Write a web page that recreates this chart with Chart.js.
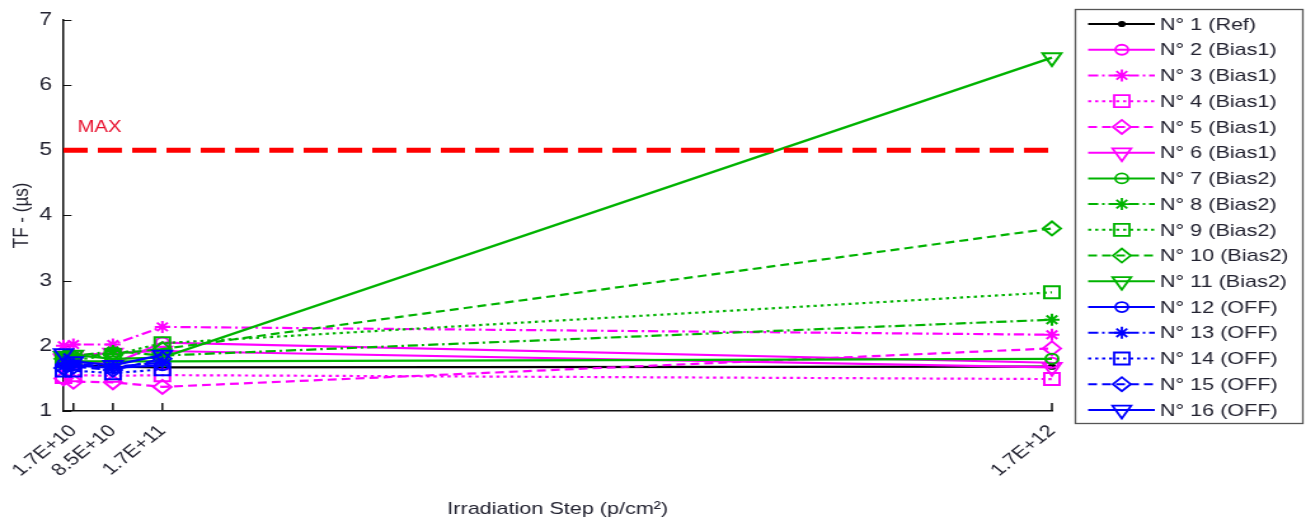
<!DOCTYPE html>
<html>
<head>
<meta charset="utf-8">
<title>TF vs irradiation step</title>
<script src="https://cdn.jsdelivr.net/npm/chart.js@4.4.1/dist/chart.umd.min.js"></script>
<style>
  html, body { margin: 0; padding: 0; background: #ffffff; overflow: hidden; }
  #tf { display: block; }
</style>
</head>
<body>
<!-- the plot is laid out on a narrower canvas and widened on screen -->
<canvas id="tf" width="1028" height="523" style="width:1306px;height:523px"></canvas>
<script>
// ---- data -------------------------------------------------------------
const steps      = [0, 1.7e10, 8.5e10, 1.7e11, 1.7e12];      // p/cm²
const tickSteps  = [1.7e10, 8.5e10, 1.7e11, 1.7e12];
const tickLabels = ['1.7E+10', '8.5E+10', '1.7E+11', '1.7E+12'];
const yTicks     = [1, 2, 3, 4, 5, 6, 7];
const tfMax      = 5;                                         // µs

const names = [
  'N° 1 (Ref)', 'N° 2 (Bias1)', 'N° 3 (Bias1)', 'N° 4 (Bias1)', 'N° 5 (Bias1)',
  'N° 6 (Bias1)', 'N° 7 (Bias2)', 'N° 8 (Bias2)', 'N° 9 (Bias2)', 'N° 10 (Bias2)',
  'N° 11 (Bias2)', 'N° 12 (OFF)', 'N° 13 (OFF)', 'N° 14 (OFF)', 'N° 15 (OFF)', 'N° 16 (OFF)'
];

const n1  = [1.70, 1.70, 1.68, 1.67, 1.68];
const n2  = [1.74, 1.76, 1.72, 2.05, 1.74];
const n3  = [2.00, 2.02, 2.02, 2.29, 2.17];
const n4  = [1.52, 1.55, 1.54, 1.55, 1.49];
const n5  = [1.50, 1.45, 1.44, 1.37, 1.96];
const n6  = [1.80, 1.85, 1.89, 1.92, 1.67];
const n7  = [1.80, 1.76, 1.76, 1.76, 1.80];
const n8  = [1.82, 1.84, 1.92, 1.85, 2.40];
const n9  = [1.76, 1.78, 1.86, 2.04, 2.82];
const n10 = [1.80, 1.82, 1.88, 1.95, 3.80];
const n11 = [1.84, 1.86, 1.80, 1.82, 6.42];
const n12 = [1.72, 1.70, 1.66, 1.70];
const n13 = [1.68, 1.72, 1.68, 1.74];
const n14 = [1.62, 1.62, 1.58, 1.64];
const n15 = [1.66, 1.68, 1.63, 1.80];
const n16 = [1.88, 1.76, 1.70, 1.86];

const seriesValues = [n1, n2, n3, n4, n5, n6, n7, n8, n9, n10, n11, n12, n13, n14, n15, n16];

// ---- styles -----------------------------------------------------------
const BLACK = '#000000', MAGENTA = '#ff00ff', GREEN = '#00b300', BLUE = '#0000ff';
const DASH = { solid: [], dashdot: [8, 3, 2, 3], dotted: [2.5, 3], dashed: [7, 4] };
const MARK = {
  dot:     { pointStyle: 'circle',   radius: 2.2, rotation: 0,   filled: true },
  circle:  { pointStyle: 'circle',   radius: 5,   rotation: 0 },
  star:    { pointStyle: 'star',     radius: 6,   rotation: 0 },
  square:  { pointStyle: 'rect',     radius: 8.5, rotation: 0 },
  diamond: { pointStyle: 'rectRot',  radius: 7,   rotation: 0 },
  tri:     { pointStyle: 'triangle', radius: 8.5, rotation: 180 }
};
const seriesStyle = [
  [BLACK,   'solid',   'dot'],
  [MAGENTA, 'solid',   'circle'],
  [MAGENTA, 'dashdot', 'star'],
  [MAGENTA, 'dotted',  'square'],
  [MAGENTA, 'dashed',  'diamond'],
  [MAGENTA, 'solid',   'tri'],
  [GREEN,   'solid',   'circle'],
  [GREEN,   'dashdot', 'star'],
  [GREEN,   'dotted',  'square'],
  [GREEN,   'dashed',  'diamond'],
  [GREEN,   'solid',   'tri'],
  [BLUE,    'solid',   'circle'],
  [BLUE,    'dashdot', 'star'],
  [BLUE,    'dotted',  'square'],
  [BLUE,    'dashed',  'diamond'],
  [BLUE,    'solid',   'tri']
];

const FONT = 'Arial, "Liberation Sans", Helvetica, sans-serif';
const TEXT = '#222230';

// ---- datasets ---------------------------------------------------------
const datasets = seriesValues.map((vals, i) => {
  const [color, dash, mark] = seriesStyle[i];
  const m = MARK[mark];
  return {
    label: names[i],
    data: vals.map((v, k) => ({ x: steps[k], y: v })),
    borderColor: color,
    borderWidth: 2.2,
    borderDash: DASH[dash],
    pointStyle: m.pointStyle,
    pointRadius: m.radius,
    pointRotation: m.rotation,
    pointBorderWidth: 2,
    pointBorderColor: color,
    pointBackgroundColor: m.filled ? color : 'rgba(0,0,0,0)',
    fill: false,
    tension: 0,
    clip: false,
    order: 50 - i,
    _mark: mark,
    _dash: dash
  };
});

datasets.push({
  label: 'MAX',
  data: [{ x: steps[0], y: tfMax }, { x: steps[steps.length - 1], y: tfMax }],
  borderColor: '#ff0000',
  borderWidth: 5,
  borderDash: [19, 8],
  pointRadius: 0,
  fill: false,
  clip: false,
  order: 0,
  _isLimit: true
});

// ---- plugins ----------------------------------------------------------
// tick marks drawn inward from the axes
const innerTicks = {
  id: 'innerTicks',
  beforeDatasetsDraw(chart) {
    const { ctx, chartArea: a, scales: { x, y } } = chart;
    ctx.save();
    ctx.strokeStyle = '#111';
    ctx.lineWidth = 1.2;
    ctx.beginPath();
    yTicks.forEach(v => {
      const py = Math.round(y.getPixelForValue(v)) + 0.5;
      ctx.moveTo(a.left, py);
      ctx.lineTo(a.left + 6.3, py);
    });
    ctx.stroke();
    ctx.lineWidth = 1.5;
    ctx.beginPath();
    tickSteps.forEach(v => {
      const px = x.getPixelForValue(v);
      ctx.moveTo(px, a.bottom);
      ctx.lineTo(px, a.bottom - 8);
    });
    ctx.stroke();
    ctx.restore();
  }
};

// "MAX" caption above the limit line
const maxLabel = {
  id: 'maxLabel',
  afterDatasetsDraw(chart) {
    const { ctx, scales: { x, y } } = chart;
    ctx.save();
    ctx.fillStyle = '#e8102e';
    ctx.font = '16px ' + FONT;
    ctx.textAlign = 'left';
    ctx.textBaseline = 'middle';
    ctx.fillText('MAX', x.getPixelForValue(0) + 11, y.getPixelForValue(tfMax) - 23);
    ctx.restore();
  }
};

function drawMarker(ctx, ds, cx, cy) {
  const m = MARK[ds._mark];
  ctx.save();
  ctx.strokeStyle = ds.borderColor;
  ctx.fillStyle = m.filled ? ds.borderColor : 'rgba(0,0,0,0)';
  ctx.lineWidth = 1.8;
  ctx.setLineDash([]);
  Chart.helpers.drawPoint(ctx, {
    pointStyle: m.pointStyle, radius: m.radius, rotation: m.rotation, borderWidth: 1.8
  }, cx, cy);
  ctx.restore();
}

// boxed legend on the right
const boxLegend = {
  id: 'boxLegend',
  afterDraw(chart) {
    const ctx = chart.ctx;
    const boxL = 846.5, boxT = 9.5, boxW = 179, boxH = 414;
    const rowY0 = 24, rowStep = 25.73;
    const lineL = 856.5, lineR = 909, markX = 883, textX = 913;
    ctx.save();
    ctx.fillStyle = '#ffffff';
    ctx.fillRect(boxL, boxT, boxW, boxH);
    ctx.strokeStyle = '#555555';
    ctx.lineWidth = 1.3;
    ctx.strokeRect(boxL, boxT, boxW, boxH);
    chart.data.datasets.filter(d => !d._isLimit).forEach((ds, i) => {
      const yy = rowY0 + i * rowStep;
      ctx.save();
      ctx.strokeStyle = ds.borderColor;
      ctx.lineWidth = 2;
      ctx.setLineDash(ds.borderDash);
      ctx.beginPath();
      ctx.moveTo(lineL, yy);
      ctx.lineTo(lineR, yy);
      ctx.stroke();
      ctx.restore();
      drawMarker(ctx, ds, markX, yy);
      ctx.fillStyle = TEXT;
      ctx.font = '17px ' + FONT;
      ctx.textAlign = 'left';
      ctx.textBaseline = 'middle';
      ctx.fillText(ds.label, textX, yy + 1);
    });
    ctx.restore();
  }
};

// ---- chart ------------------------------------------------------------
new Chart(document.getElementById('tf'), {
  type: 'line',
  data: { datasets },
  options: {
    responsive: false,
    animation: false,
    events: [],
    layout: { padding: { left: 0, top: 19, right: 200, bottom: 0 } },
    plugins: { legend: { display: false }, tooltip: { enabled: false } },
    scales: {
      x: {
        type: 'linear',
        min: 0,
        max: 1.7e12,
        afterBuildTicks: s => { s.ticks = tickSteps.map(v => ({ value: v })); },
        afterFit: s => { s.height = 112; },
        grid: { display: false, drawTicks: false },
        border: { display: true, color: '#111', width: 1.5 },
        ticks: {
          autoSkip: false,
          minRotation: 45,
          maxRotation: 45,
          padding: 10,
          color: TEXT,
          font: { family: FONT, size: 17 },
          callback: v => tickLabels[tickSteps.indexOf(v)]
        },
        title: {
          display: true,
          text: 'Irradiation Step (p/cm²)',
          color: TEXT,
          font: { family: FONT, size: 17 },
          padding: { top: 0, bottom: 3 }
        }
      },
      y: {
        type: 'linear',
        min: 1,
        max: 7,
        afterBuildTicks: s => { s.ticks = yTicks.map(v => ({ value: v })); },
        afterFit: s => { s.width = 50; },
        grid: { display: false, drawTicks: false },
        border: { display: true, color: '#111', width: 1.5 },
        ticks: {
          padding: 9,
          color: TEXT,
          font: { family: FONT, size: 18 }
        },
        title: {
          display: true,
          text: 'TF - (µs)',
          color: TEXT,
          font: { family: FONT, size: 17 },
          padding: { top: 7, bottom: 0 }
        }
      }
    }
  },
  plugins: [innerTicks, maxLabel, boxLegend]
});
</script>
</body>
</html>
